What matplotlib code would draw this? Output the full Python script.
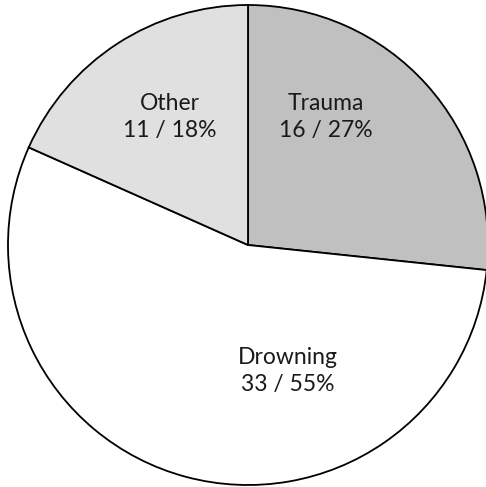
import matplotlib
matplotlib.use("Agg")
import matplotlib.pyplot as plt

categories = ["Trauma", "Drowning", "Other"]
counts = [16, 33, 11]
percents = [27, 55, 18]
colors = ["#c0c0c0", "#ffffff", "#e0e0e0"]

fig = plt.figure(figsize=(4.86, 4.87), dpi=100)
cx, cy, r = 248 / 486, (487 - 245) / 487, 240
ax = fig.add_axes([cx - r / 486, cy - r / 487, 2 * r / 486, 2 * r / 487])
wedges, _ = ax.pie(counts, colors=colors, startangle=90, counterclock=False,
                   wedgeprops=dict(edgecolor="black", linewidth=1.3))
ax.set_xlim(-1, 1)
ax.set_ylim(-1, 1)
ax.set_aspect("auto")

label_pos = [(78 / 240, 128 / 240), (40 / 240, -126 / 240), (-78 / 240, 128 / 240)]
for (x, y), cat, n, p in zip(label_pos, categories, counts, percents):
    ax.text(x, y, f"{cat}\n{n} / {p}%", ha="center", va="center",
            fontsize=16.5, family=["Lato", "DejaVu Sans"], color="#1a1a1a",
            linespacing=1.38)

fig.savefig("out.png", dpi=100)
